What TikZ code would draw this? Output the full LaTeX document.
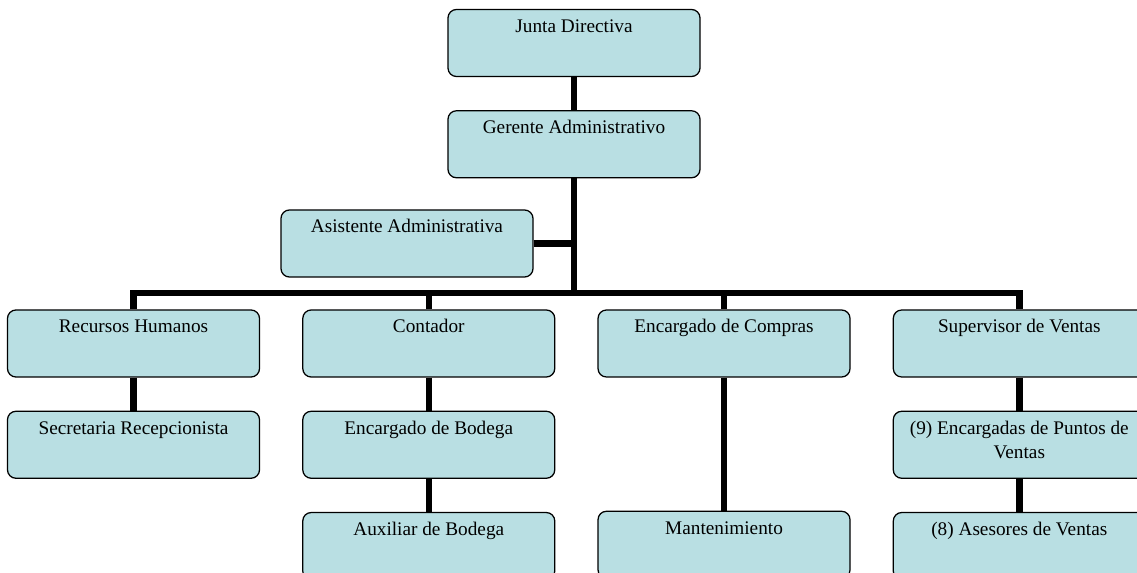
\documentclass[tikz,border=0pt]{standalone}
\usepackage{fontspec}
\setmainfont{Liberation Serif}
\usepackage{xcolor}
\usepackage{tikz}
\usetikzlibrary{positioning}

\definecolor{cargo}{RGB}{185,223,227}

\begin{document}
\begin{tikzpicture}[
  node distance=0.825cm and 1.05cm,
  box/.style={rectangle, draw=black, fill=cargo, rounded corners=6pt,
              line width=0.9pt, minimum width=6.3cm, align=center,
              inner xsep=2pt, inner ysep=0pt,
              text height=0.575cm, text depth=1.1cm,
              font=\fontsize{13.7}{17}\selectfont},
  twoline/.style={box, text height=1.175cm, text depth=0.5cm},
  link/.style={line width=4.6pt, color=black}
]
\useasboundingbox (0,0) rectangle (28.425,-14.325);

\node[box] (junta) at (14.35,-1.075) {Junta Directiva};
\node[box, below=of junta] (gerente) {Gerente Administrativo};
\node[box] (asistente) at (10.175,-6.0875) {Asistente Administrativa};

\node[box] (rrhh) at (3.3375,-8.5875) {Recursos Humanos};
\node[box, right=of rrhh] (contador) {Contador};
\node[box, right=of contador] (compras) {Encargado de Compras};
\node[box, right=of compras] (supervisor) {Supervisor de Ventas};

\node[box, below=of rrhh] (secretaria) {Secretaria Recepcionista};
\node[box, below=of contador] (bodega) {Encargado de Bodega};
\node[box, below=of bodega] (auxiliar) {Auxiliar de Bodega};
\node[box, below=3.325cm of compras] (mantenimiento) {Mantenimiento};
\node[twoline, below=of supervisor] (puntos) {(9) Encargadas de Puntos de\\ Ventas};
\node[box, below=of puntos] (asesores) {(8) Asesores de Ventas};

\coordinate (bus) at (14.35,-7.325);

\draw[link] (junta) -- (gerente);
\draw[link] (gerente.south) -- (bus);
\draw[link] (asistente.east) -- (asistente.east -| bus);
\draw[link] (rrhh.north) |- (bus) -| (supervisor.north);
\draw[link] (contador.north) -- (contador.north |- bus);
\draw[link] (compras.north) -- (compras.north |- bus);
\draw[link] (rrhh) -- (secretaria);
\draw[link] (contador) -- (bodega);
\draw[link] (bodega) -- (auxiliar);
\draw[link] (compras) -- (mantenimiento);
\draw[link] (supervisor) -- (puntos);
\draw[link] (puntos) -- (asesores);
\end{tikzpicture}
\end{document}
